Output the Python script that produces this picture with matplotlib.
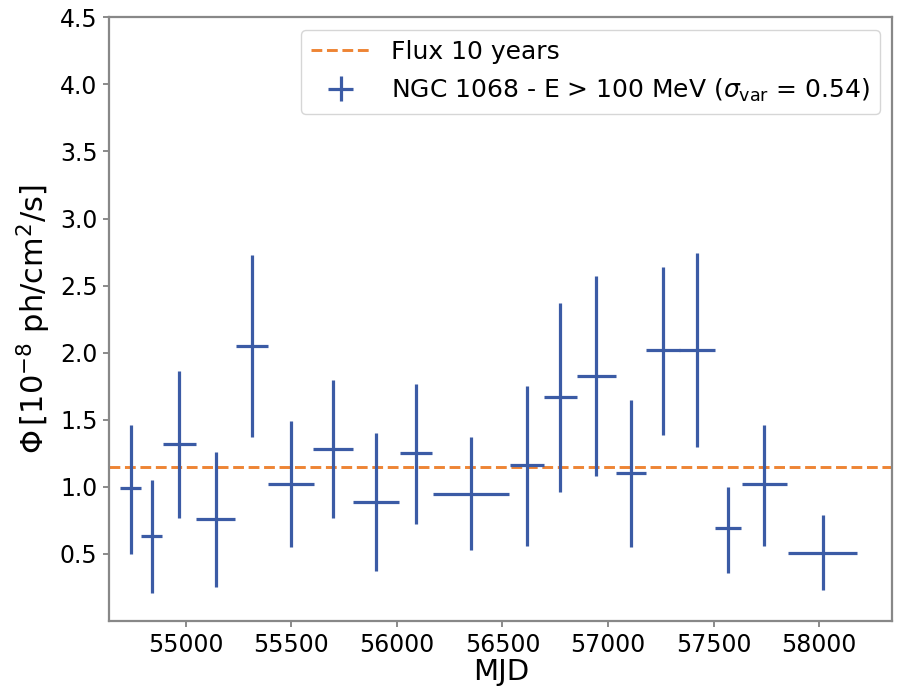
import numpy as np
import matplotlib
matplotlib.use("Agg")
import matplotlib.pyplot as plt

# light curve bins: centre (MJD), half width (days), flux and error bounds
mjd = [54739, 54839, 54970, 55142, 55313, 55497, 55699, 55901, 56091, 56351,
       56615, 56775, 56944, 57108, 57260, 57422, 57570, 57741, 58017]
half_width = [50, 50, 79, 93, 76, 109, 95, 107, 77, 178,
              80, 77, 93, 71, 79, 84, 62, 108, 164]
flux = [0.99, 0.63, 1.32, 0.76, 2.05, 1.02, 1.28, 0.89, 1.25, 0.95,
        1.16, 1.67, 1.83, 1.10, 2.02, 2.02, 0.69, 1.02, 0.51]
flux_hi = [1.46, 1.05, 1.86, 1.26, 2.73, 1.49, 1.80, 1.40, 1.77, 1.37,
           1.75, 2.37, 2.57, 1.65, 2.64, 2.74, 1.00, 1.46, 0.79]
flux_lo = [0.50, 0.21, 0.77, 0.25, 1.37, 0.55, 0.77, 0.37, 0.72, 0.53,
           0.56, 0.96, 1.08, 0.55, 1.39, 1.30, 0.36, 0.56, 0.23]

flux_10yr = 1.146  # 10-year average flux
sigma_var = 0.54

mjd = np.array(mjd)
flux = np.array(flux)
yerr = [flux - np.array(flux_lo), np.array(flux_hi) - flux]

blue = "#3b5ba5"
orange = "#ee8434"

fig = plt.figure(figsize=(8.97, 6.93), dpi=100)
ax = fig.add_axes([0.1219, 0.1039, 0.8729, 0.8711])

ax.axhline(flux_10yr, color=orange, ls="--", lw=2.1, label="Flux 10 years")
ax.errorbar(mjd, flux, xerr=half_width, yerr=yerr, fmt="none",
            ecolor=blue, elinewidth=2.3,
            label=r"NGC 1068 - E > 100 MeV ($\sigma_{\rm var}$ = %.2f)" % sigma_var)

ax.set_xlim(54638, 58347)
ax.set_ylim(0.0, 4.5)
ax.set_yticks(np.arange(0.5, 4.51, 0.5))
ax.set_xticks(np.arange(55000, 58001, 500))

ax.set_xlabel("MJD", fontsize=21, labelpad=1)
ax.set_ylabel(r"$\Phi\,[10^{-8}$ ph/cm$^2$/s]", fontsize=22, labelpad=5)
ax.tick_params(labelsize=17, color="#777777", length=4, width=1.2, pad=4.5)
for sp in ax.spines.values():
    sp.set_color("#888888")
    sp.set_linewidth(1.6)

ax.legend(loc="upper right", fontsize=18, framealpha=0.8,
          handlelength=2.4, borderpad=0.4, handletextpad=0.8)

fig.savefig("out.png", dpi=100)
